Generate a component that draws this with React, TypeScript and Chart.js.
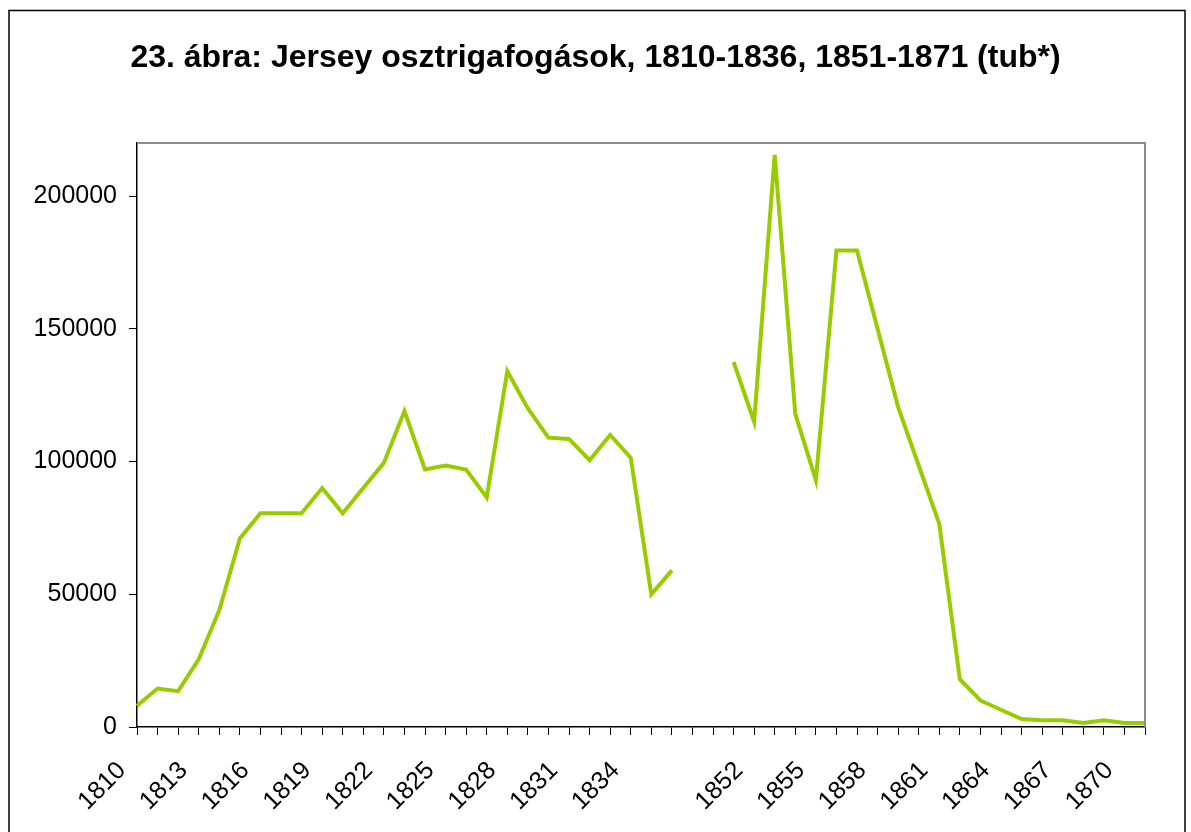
import React, { useEffect, useRef } from "react";
import { Chart, registerables } from "chart.js";

Chart.register(...registerables);

const titleText = "23. ábra: Jersey osztrigafogások, 1810-1836, 1851-1871 (tub*)";

const categories = [
  "1810", "1811", "1812", "1813", "1814", "1815", "1816", "1817", "1818", "1819",
  "1820", "1821", "1822", "1823", "1824", "1825", "1826", "1827", "1828", "1829",
  "1830", "1831", "1832", "1833", "1834", "1835", "1836", "", "",
  "1851", "1852", "1853", "1854", "1855", "1856", "1857", "1858", "1859", "1860",
  "1861", "1862", "1863", "1864", "1865", "1866", "1867", "1868", "1869", "1870", "1871",
];

const catches = [
  8000, 14500, 13500, 25500, 44000, 71000, 80500, 80500, 80500, 90000,
  80500, 90000, 99500, 119000, 97000, 98500, 97000, 86500, 134000, 120000,
  109000, 108500, 100500, 110000, 101500, 50000, 59000, null, null,
  137500, 115000, 215500, 118000, 93000, 179500, 179500, 150000, 120500, 98500,
  76500, 18000, 10000, 6500, 3000, 2500, 2500, 1500, 2500, 1500, 1500,
];

const yTicks = [0, 50000, 100000, 150000, 200000];
const yMax = 220000;
const labelEvery = 3;

const framePlugin = {
  id: "frame",
  afterDraw(chart: any) {
    const { ctx, chartArea } = chart;
    ctx.save();
    ctx.strokeStyle = "#8c8c8c";
    ctx.lineWidth = 2;
    ctx.beginPath();
    ctx.moveTo(chartArea.left, chartArea.top);
    ctx.lineTo(chartArea.right, chartArea.top);
    ctx.lineTo(chartArea.right, chartArea.bottom);
    ctx.stroke();
    ctx.strokeStyle = "#000000";
    ctx.lineWidth = 1.5;
    ctx.strokeRect(9, 10.5, 1176, 900);
    ctx.restore();
  },
};

export default function App() {
  const ref = useRef<HTMLCanvasElement | null>(null);

  useEffect(() => {
    if (!ref.current) return;
    const chart = new Chart(ref.current, {
      type: "line",
      data: {
        labels: categories,
        datasets: [
          {
            data: catches,
            borderColor: "#99cc00",
            backgroundColor: "#99cc00",
            borderWidth: 4,
            pointRadius: 0,
            pointHoverRadius: 0,
            tension: 0,
            spanGaps: false,
            borderJoinStyle: "miter",
          },
        ],
      },
      options: {
        animation: false,
        responsive: false,
        devicePixelRatio: 1,
        layout: { padding: { left: 0, right: 0, top: 0, bottom: 0 } },
        plugins: {
          legend: { display: false },
          tooltip: { enabled: false },
          title: {
            display: true,
            text: titleText,
            color: "#000000",
            font: { family: "'Liberation Sans', Arial, sans-serif", size: 32, weight: "bold" },
            lineHeight: 1.2,
            padding: { top: 39, bottom: 65.6 },
          },
        },
        scales: {
          x: {
            type: "category",
            offset: false,
            grid: {
              display: true,
              drawOnChartArea: false,
              drawTicks: true,
              tickLength: 8,
              color: "#000000",
              lineWidth: 1,
            },
            border: { display: true, color: "#000000", width: 1.5 },
            ticks: {
              autoSkip: false,
              maxRotation: 45,
              minRotation: 45,
              padding: 21,
              labelOffset: -15,
              color: "#000000",
              font: { family: "'Liberation Sans', Arial, sans-serif", size: 25 },
              callback: (_v: any, i: number) => (i % labelEvery === 0 ? categories[i] : ""),
            },
            afterFit: (s: any) => {
              s.height = 105;
            },
          },
          y: {
            type: "linear",
            min: 0,
            max: yMax,
            grid: {
              display: true,
              drawOnChartArea: false,
              drawTicks: true,
              tickLength: 8,
              color: "#000000",
              lineWidth: 1,
            },
            border: { display: true, color: "#000000", width: 1.5 },
            afterBuildTicks: (s: any) => {
              s.ticks = yTicks.map((v) => ({ value: v }));
            },
            ticks: {
              padding: 12,
              color: "#000000",
              font: { family: "'Liberation Sans', Arial, sans-serif", size: 25 },
              callback: (v: any) => String(v),
            },
            afterFit: (s: any) => {
              s.width = 137;
            },
          },
          spacer: {
            type: "linear",
            position: "right",
            display: true,
            grid: { display: false },
            border: { display: false },
            ticks: { display: false },
            afterFit: (s: any) => {
              s.width = 46;
            },
          },
        },
      },
      plugins: [framePlugin],
    });
    return () => chart.destroy();
  }, []);

  return (
    <div style={{ position: "fixed", left: 0, top: 0, width: 1191, height: 832, background: "#ffffff" }}>
      <canvas ref={ref} width={1191} height={832} style={{ display: "block", width: 1191, height: 832 }} />
    </div>
  );
}
